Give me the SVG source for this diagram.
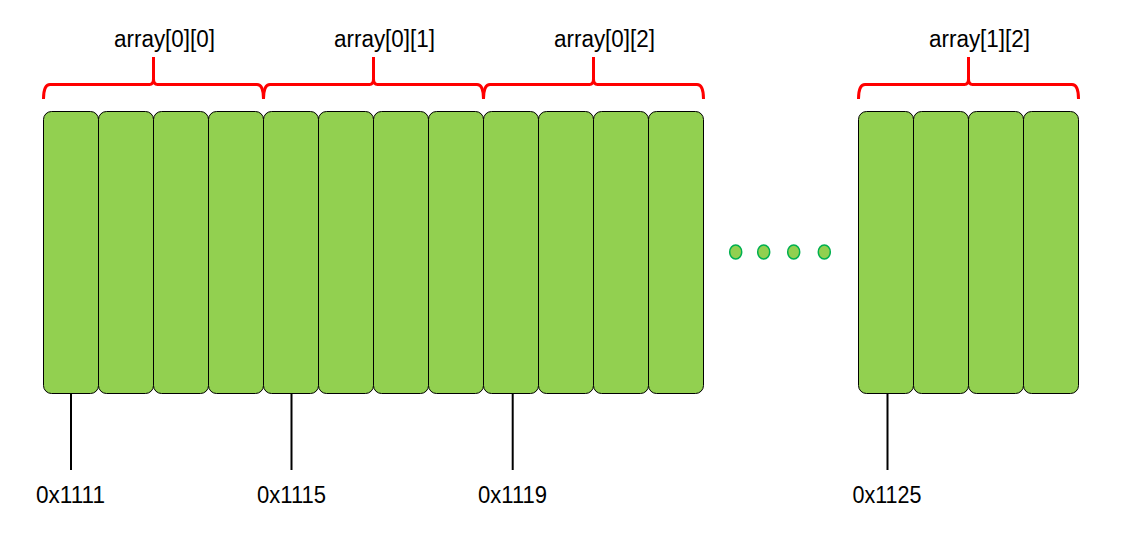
<svg xmlns="http://www.w3.org/2000/svg" width="1126" height="545" viewBox="0 0 1126 545">
<style>
.cell{fill:#92d050;stroke:#000;stroke-width:1}
.brace{fill:none;stroke:#ff0000;stroke-width:3}
.dot{fill:#92d050;stroke:#00b050;stroke-width:1.5}
.lbl{font-family:"Liberation Sans",Arial,sans-serif;font-size:23px;fill:#000}
.conn{stroke:#000;stroke-width:2}
</style>
<rect width="1126" height="545" fill="#fff"/>
<g id="cells">
<rect class="cell" x="43.5" y="111.5" width="55" height="282" rx="8"/>
<rect class="cell" x="98.5" y="111.5" width="55" height="282" rx="8"/>
<rect class="cell" x="153.5" y="111.5" width="55" height="282" rx="8"/>
<rect class="cell" x="208.5" y="111.5" width="55" height="282" rx="8"/>
<rect class="cell" x="263.5" y="111.5" width="55" height="282" rx="8"/>
<rect class="cell" x="318.5" y="111.5" width="55" height="282" rx="8"/>
<rect class="cell" x="373.5" y="111.5" width="55" height="282" rx="8"/>
<rect class="cell" x="428.5" y="111.5" width="55" height="282" rx="8"/>
<rect class="cell" x="483.5" y="111.5" width="55" height="282" rx="8"/>
<rect class="cell" x="538.5" y="111.5" width="55" height="282" rx="8"/>
<rect class="cell" x="593.5" y="111.5" width="55" height="282" rx="8"/>
<rect class="cell" x="648.5" y="111.5" width="55" height="282" rx="8"/>
<rect class="cell" x="858.5" y="111.5" width="55" height="282" rx="8"/>
<rect class="cell" x="913.5" y="111.5" width="55" height="282" rx="8"/>
<rect class="cell" x="968.5" y="111.5" width="55" height="282" rx="8"/>
<rect class="cell" x="1023.5" y="111.5" width="55" height="282" rx="8"/>
</g>
<g id="braces">
<path class="brace" d="M43.5,99 Q43.5,84.5 50,84.5 H149.5 Q153.5,84.5 153.5,79 V57 M153.5,79 Q153.5,84.5 157.5,84.5 H257 Q263.5,84.5 263.5,99"/>
<path class="brace" d="M263.5,99 Q263.5,84.5 270,84.5 H369.5 Q373.5,84.5 373.5,79 V57 M373.5,79 Q373.5,84.5 377.5,84.5 H477 Q483.5,84.5 483.5,99"/>
<path class="brace" d="M483.5,99 Q483.5,84.5 490,84.5 H589.5 Q593.5,84.5 593.5,79 V57 M593.5,79 Q593.5,84.5 597.5,84.5 H697 Q703.5,84.5 703.5,99"/>
<path class="brace" d="M858.5,99 Q858.5,84.5 865,84.5 H964.5 Q968.5,84.5 968.5,79 V57 M968.5,79 Q968.5,84.5 972.5,84.5 H1072 Q1078.5,84.5 1078.5,99"/>
</g>
<g id="brace-labels">
<text class="lbl" x="114" y="47" textLength="101" lengthAdjust="spacingAndGlyphs">array[0][0]</text>
<text class="lbl" x="334" y="47" textLength="101" lengthAdjust="spacingAndGlyphs">array[0][1]</text>
<text class="lbl" x="554" y="47" textLength="101" lengthAdjust="spacingAndGlyphs">array[0][2]</text>
<text class="lbl" x="929" y="47" textLength="101" lengthAdjust="spacingAndGlyphs">array[1][2]</text>
</g>
<g id="ellipsis">
<ellipse class="dot" cx="735.7" cy="252" rx="6" ry="7"/>
<ellipse class="dot" cx="763.7" cy="252" rx="6" ry="7"/>
<ellipse class="dot" cx="793.7" cy="252" rx="6" ry="7"/>
<ellipse class="dot" cx="824.3" cy="252" rx="6" ry="7"/>
</g>
<g id="connectors">
<line class="conn" x1="71" y1="393.5" x2="71" y2="470"/>
<line class="conn" x1="291.5" y1="393.5" x2="291.5" y2="470"/>
<line class="conn" x1="512.7" y1="393.5" x2="512.7" y2="470"/>
<line class="conn" x1="887.5" y1="393.5" x2="887.5" y2="470"/>
</g>
<g id="addresses">
<text class="lbl" x="36" y="502.5" textLength="69" lengthAdjust="spacingAndGlyphs">0x1111</text>
<text class="lbl" x="257" y="502.5" textLength="69" lengthAdjust="spacingAndGlyphs">0x1115</text>
<text class="lbl" x="478" y="502.5" textLength="69" lengthAdjust="spacingAndGlyphs">0x1119</text>
<text class="lbl" x="852.5" y="502.5" textLength="69" lengthAdjust="spacingAndGlyphs">0x1125</text>
</g>
</svg>
